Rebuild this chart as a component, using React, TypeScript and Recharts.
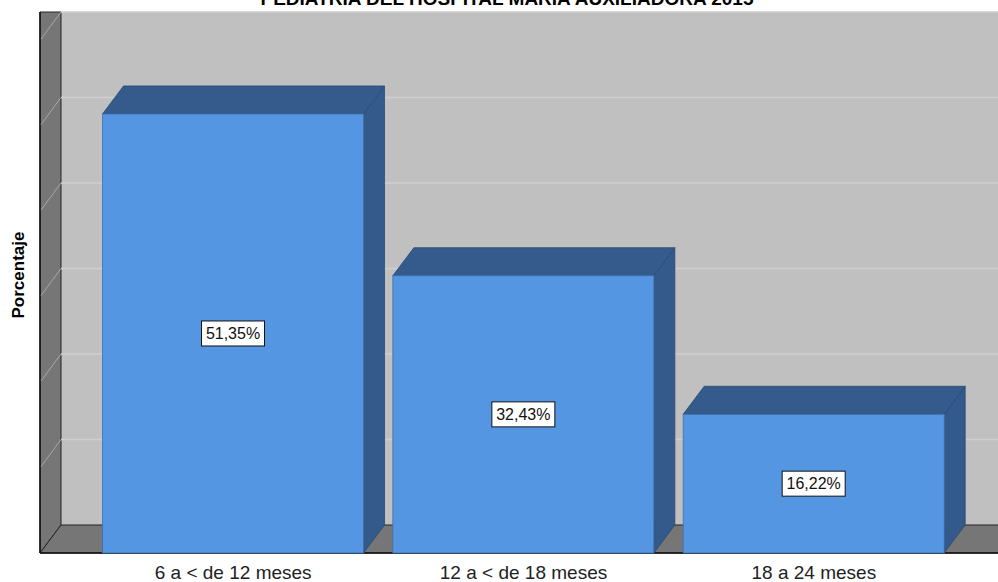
import {
    BarChart,
    Bar,
    XAxis,
    YAxis,
    ReferenceArea,
    ReferenceLine,
    LabelList,
    Customized
} from "recharts";

const categories = ["6 a < de 12 meses", "12 a < de 18 meses", "18 a 24 meses"];
const percentages = [51.35, 32.43, 16.22];
const yTicks = [0, 10, 20, 30, 40, 50, 60];

const data = categories.map((name, i) => ({ name, value: percentages[i] }));

// depth of the 3D box (back plane offset from the front plane)
const DX = 21;
const DY = -28;

// category axis padding; the walls span the full plot including it
const PAD_LEFT = 48;
const PAD_RIGHT = 39;

const FONT = "'Liberation Sans', Arial, sans-serif";

const fmt = (v: number) => v.toFixed(2).replace(".", ",") + "%";

// back wall, left wall and floor, drawn from the reference area rectangle
const Walls = (props: any) => {
    const x = props.x - PAD_LEFT;
    const width = props.width + PAD_LEFT + PAD_RIGHT;
    const { y, height } = props;
    const b = y + height;
    return (
        <g>
            <rect x={x + DX} y={y + DY} width={width} height={height} fill="#c0c0c0" />
            <polygon
                points={`${x},${y + DY} ${x + DX},${y + DY} ${x + DX},${b + DY} ${x},${b}`}
                fill="#767676"
                stroke="#222"
                strokeWidth={1}
            />
            <polygon
                points={`${x},${b} ${x + DX},${b + DY} ${x + width + DX},${b + DY} ${x + width},${b}`}
                fill="#767676"
                stroke="#222"
                strokeWidth={1}
            />
            <line x1={x} y1={y + DY} x2={x} y2={b} stroke="#111" strokeWidth={1.5} />
            <line x1={x} y1={b} x2={x + width} y2={b} stroke="#111" strokeWidth={1.5} />
        </g>
    );
};

// gridline on the back wall plus its diagonal across the left wall
const GridLine = (props: any) => {
    const { x1, y1, x2 } = props;
    return (
        <g>
            <line x1={x1 + 1} y1={y1 - 1} x2={x1 + DX} y2={y1 + DY} stroke="#a8a8a8" strokeWidth={1} />
            <line x1={x1 + DX} y1={y1 + DY} x2={x2 + DX} y2={y1 + DY} stroke="#cfcfcf" strokeWidth={1.5} />
        </g>
    );
};

const Bar3D = (props: any) => {
    const { x, y, width: w, height: h } = props;
    return (
        <g>
            <polygon
                points={`${x + w},${y} ${x + w + DX},${y + DY} ${x + w + DX},${y + h + DY} ${x + w},${y + h}`}
                fill="#345a8c"
                stroke="#2a4a74"
                strokeWidth={0.8}
            />
            <polygon
                points={`${x},${y} ${x + DX},${y + DY} ${x + w + DX},${y + DY} ${x + w},${y}`}
                fill="#355b8d"
                stroke="#2a4a74"
                strokeWidth={0.8}
            />
            <rect x={x} y={y} width={w} height={h} fill="#5596e3" stroke="#3f6ea8" strokeWidth={0.8} />
        </g>
    );
};

const ValueBox = (props: any) => {
    const { x, y, width, height, value } = props;
    const label = fmt(value);
    const bw = label.length * 9 + 9;
    const bh = 25;
    const cx = x + width / 2;
    const cy = y + height / 2;
    return (
        <g>
            <rect x={cx - bw / 2} y={cy - bh / 2} width={bw} height={bh} fill="#fff" stroke="#111" strokeWidth={1} />
            <text
                x={cx}
                y={cy}
                textAnchor="middle"
                dominantBaseline="central"
                fontFamily={FONT}
                fontSize={16}
                fill="#111"
            >
                {label}
            </text>
        </g>
    );
};

const CategoryTick = (props: any) => {
    const { x, y, payload } = props;
    return (
        <text x={x} y={y} dy={18} textAnchor="middle" fontFamily={FONT} fontSize={19} fill="#222">
            {payload.value}
        </text>
    );
};

const Titles = () => (
    <g>
        <text x={507} y={5} textAnchor="middle" fontFamily={FONT} fontWeight="bold" fontSize={19} fill="#000">
            PEDIATRIA DEL HOSPITAL MARIA AUXILIADORA 2015
        </text>
        <text
            x={24}
            y={275}
            transform="rotate(-90 24 275)"
            textAnchor="middle"
            fontFamily={FONT}
            fontWeight="bold"
            fontSize={17}
            fill="#000"
        >
            Porcentaje
        </text>
    </g>
);

export default function App() {
    return (
        <div style={{ position: "fixed", left: 0, top: 0, width: 998, height: 582, background: "#fff" }}>
            <BarChart
                width={998}
                height={582}
                data={data}
                margin={{ top: 40, right: 0, bottom: 0, left: 40 }}
                barCategoryGap="5%"
            >
                <XAxis
                    dataKey="name"
                    axisLine={false}
                    tickLine={false}
                    height={29}
                    padding={{ left: PAD_LEFT, right: PAD_RIGHT }}
                    tick={<CategoryTick />}
                    interval={0}
                />
                <YAxis hide domain={[0, 60]} ticks={yTicks} />
                <ReferenceArea y1={0} y2={60} shape={<Walls />} ifOverflow="visible" zIndex={-95} />
                {yTicks.slice(1).map((t) => (
                    <ReferenceLine key={t} y={t} shape={<GridLine />} ifOverflow="visible" zIndex={-90} />
                ))}
                <Bar dataKey="value" shape={<Bar3D />} isAnimationActive={false}>
                    <LabelList dataKey="value" content={<ValueBox />} />
                </Bar>
                <Customized component={<Titles />} />
            </BarChart>
        </div>
    );
}
